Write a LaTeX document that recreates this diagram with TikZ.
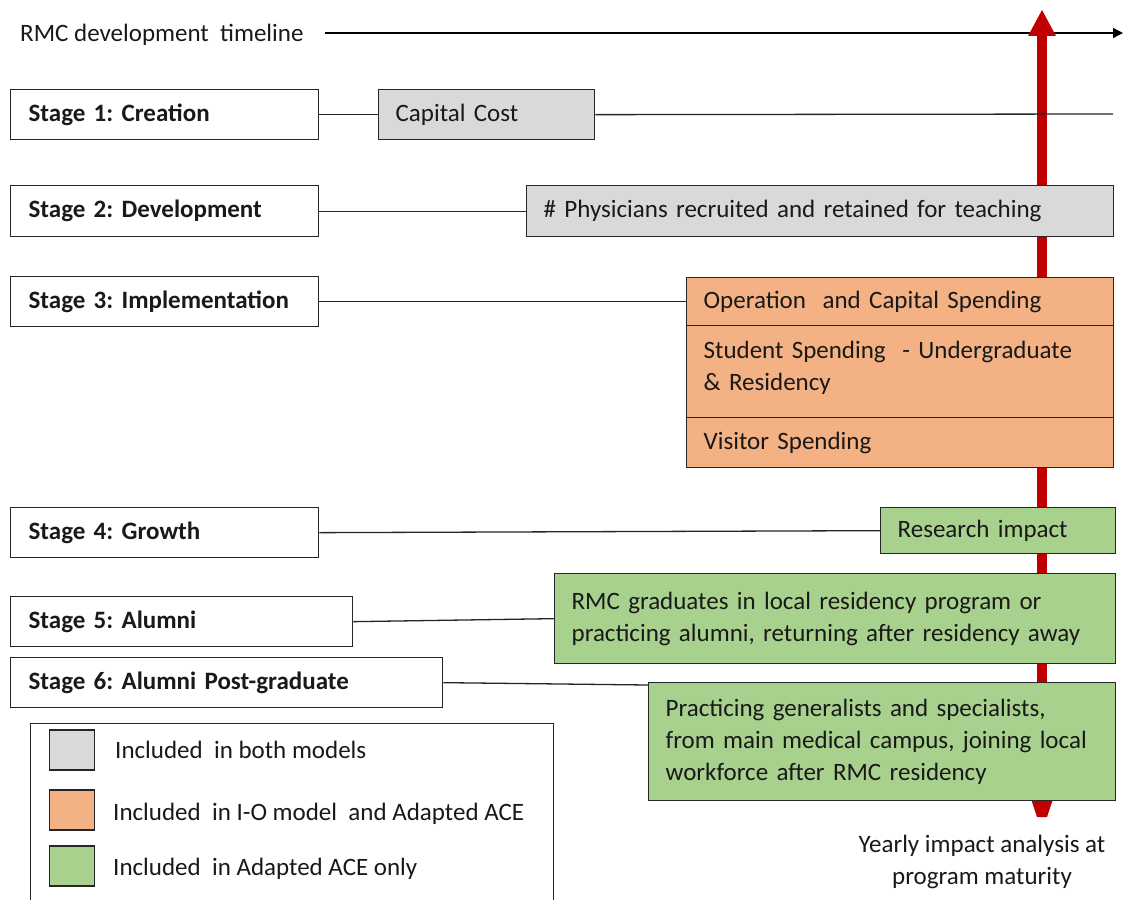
\documentclass[tikz,border=0pt]{standalone}
\usepackage{fontspec}
\setmainfont{Carlito}
\usetikzlibrary{arrows.meta}
\definecolor{boxgrey}{HTML}{D9D9D9}
\definecolor{boxorange}{HTML}{F4B183}
\definecolor{boxgreen}{HTML}{A9D18E}
\definecolor{arrowred}{HTML}{C00000}
\definecolor{edge}{HTML}{262626}
\frenchspacing
\begin{document}
\begin{tikzpicture}[x=1pt,y=-1pt,
  every node/.style={font=\fontsize{25}{32}\selectfont, text=black!90},
  box/.style={draw=edge, line width=1.3pt, anchor=north west, inner xsep=17pt, inner ysep=0pt, align=left},
  stagebox/.style={box, fill=white, inner xsep=18pt, font=\fontsize{25}{32}\selectfont\bfseries},
  greybox/.style={box, fill=boxgrey},
  orangebox/.style={box, fill=boxorange},
  greenbox/.style={box, fill=boxgreen},
  link/.style={draw=edge, line width=1.3pt},
  legsq/.style={draw=edge, line width=1.3pt, minimum width=45pt, minimum height=40pt, inner sep=0pt},
  legtext/.style={anchor=west, inner sep=0pt}
]
\clip (0,0) rectangle (1123,899);
\fill[white] (0,0) rectangle (1123,899);

% timeline
\node[anchor=west, inner sep=0pt] (tl) at (20,35) {RMC development\ \ timeline};
\coordinate (tlstart) at (325,33);
\coordinate (tlend) at (1123,33);
\draw[line width=1.3pt, -{Triangle[length=10pt,width=10pt]}] (tlstart) -- (tlend);

% red arrow
\fill[arrowred] (1037,34) rectangle (1047,795);
\fill[arrowred] (1042,10) -- (1056,36) -- (1028,36) -- cycle;
\fill[arrowred] (1028,790) -- (1056,790) -- (1047,817) -- (1037,817) -- cycle;

% stage boxes
\node[stagebox, text width=272pt, minimum height=50pt] (s1) at (10,89) {Stage 1: Creation};
\node[stagebox, text width=272pt, minimum height=51pt] (s2) at (10,185) {Stage 2: Development};
\node[stagebox, text width=272pt, minimum height=50pt] (s3) at (10,276) {Stage 3: Implementation};
\node[stagebox, text width=272pt, minimum height=50pt] (s4) at (10,507) {Stage 4: Growth};
\node[stagebox, text width=306pt, minimum height=50pt] (s5) at (10,596) {Stage 5: Alumni};
\node[stagebox, text width=396pt, minimum height=50pt] (s6) at (10,657) {Stage 6: Alumni Post-graduate};

% right boxes
\node[greybox, text width=182pt, minimum height=50pt] (cap) at (378,89) {Capital Cost};
\node[greybox, text width=553pt, minimum height=51pt] (phys) at (526,185) {\# Physicians recruited and retained for teaching};
\node[orangebox, text width=393pt, minimum height=48pt] (op) at (686,277) {Operation\ \ and Capital Spending};
\node[orangebox, text width=393pt, minimum height=92pt] (stu) at (686,325) {\raisebox{4pt}[\height][\depth]{\parbox{393pt}{\raggedright Student Spending\ \ - Undergraduate\\\& Residency}}};
\node[orangebox, text width=393pt, minimum height=50pt] (vis) at (686,417) {Visitor Spending};
\node[greenbox, text width=201pt, minimum height=46pt] (res) at (880,507) {Research impact};
\node[greenbox, text width=527pt, minimum height=90pt] (grad) at (554,573) {RMC graduates in local residency program or\\practicing alumni, returning after residency away};
\node[greenbox, text width=433pt, minimum height=118pt] (prac) at (648,682) {Practicing generalists and specialists,\\from main medical campus, joining local\\workforce after RMC residency};

% connectors
\coordinate (capend) at (1113,114);
\coordinate (pracin) at (648,685);
\draw[link] (s1.east) -- (cap.west);
\draw[link] (cap.east) -- (capend);
\draw[link] (s2.east) -- (phys.west);
\draw[link] (s3.east) -- (op.west);
\draw[link] (s4.east) -- (res.west);
\draw[link] (s5.east) -- (grad.west);
\draw[link] (s6.east) -- (pracin);

% bottom label
\node[align=center, inner sep=0pt] (yearly) at (982,862) {Yearly impact analysis at\\program maturity};

% legend
\node[draw=edge, line width=1.3pt, anchor=north west, minimum width=523pt, minimum height=200pt, inner sep=0pt] (legend) at (30,723) {};
\node[legsq, fill=boxgrey] (lg1) at (72,750) {};
\node[legsq, fill=boxorange] (lg2) at (72,810) {};
\node[legsq, fill=boxgreen] (lg3) at (72,866) {};
\node[legtext] (lt1) at (115,750) {Included\ \ in both models};
\node[legtext] (lt2) at (113,814) {Included\ \ in I-O model\ \ and Adapted ACE};
\node[legtext] (lt3) at (113,869) {Included\ \ in Adapted ACE only};
\end{tikzpicture}
\end{document}
